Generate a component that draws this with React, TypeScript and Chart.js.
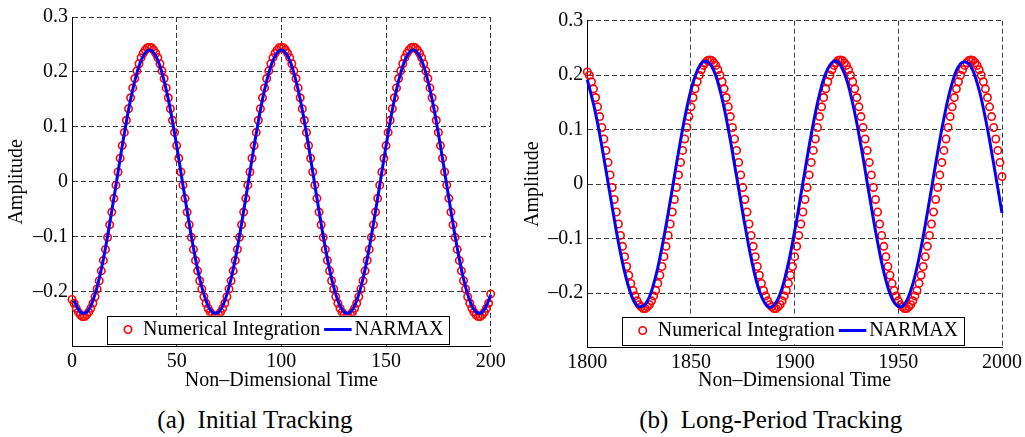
import React, { useEffect, useRef } from 'react';
import { Chart, registerables } from 'chart.js';

Chart.register(...registerables);

const FONT = "'Liberation Serif', 'Times New Roman', Times, serif";

// ---------- Panel (a): Initial Tracking ----------
// Numerical Integration, sampled at t = 0, 1, 2, ..., 200
const leftNumStart = 0;
const leftNumStep = 1;
const leftNumerical = [
  -0.214, -0.221, -0.230, -0.237, -0.242, -0.245, -0.245, -0.242, -0.237, -0.230, -0.221, -0.209, -0.195, -0.180, -0.162, -0.143, -0.123, -0.101, -0.078, -0.055, -0.030, -0.006, 0.018, 0.043, 0.066, 0.090, 0.112, 0.133, 0.153, 0.171, 0.188, 0.202, 0.215, 0.226, 0.234, 0.240, 0.244,
  0.245, 0.244, 0.240, 0.234, 0.226, 0.215, 0.202, 0.188, 0.171, 0.153, 0.133, 0.112, 0.090, 0.066, 0.043, 0.018, -0.006, -0.030, -0.055, -0.078, -0.101, -0.123, -0.143, -0.162, -0.180, -0.195, -0.209, -0.221, -0.230, -0.237, -0.242, -0.245, -0.245, -0.242, -0.237, -0.230, -0.221, -0.209, -0.195, -0.180, -0.162, -0.143, -0.123, -0.101, -0.078, -0.055, -0.030, -0.006, 0.018, 0.043, 0.066, 0.090, 0.112, 0.133, 0.153, 0.171, 0.188, 0.202, 0.215, 0.226, 0.234, 0.240, 0.244,
  0.245, 0.244, 0.240, 0.234, 0.226, 0.215, 0.202, 0.188, 0.171, 0.153, 0.133, 0.112, 0.090, 0.066, 0.043, 0.018, -0.006, -0.030, -0.055, -0.078, -0.101, -0.123, -0.143, -0.162, -0.180, -0.195, -0.209, -0.221, -0.230, -0.237, -0.242, -0.245, -0.245, -0.242, -0.237, -0.230, -0.221, -0.209, -0.195, -0.180, -0.162, -0.143, -0.123, -0.101, -0.078, -0.055, -0.030, -0.006, 0.018, 0.043, 0.066, 0.090, 0.112, 0.133, 0.153, 0.171, 0.188, 0.202, 0.215, 0.226, 0.234, 0.240, 0.244,
  0.245, 0.244, 0.240, 0.234, 0.226, 0.215, 0.202, 0.188, 0.171, 0.153, 0.133, 0.112, 0.090, 0.066, 0.043, 0.018, -0.006, -0.030, -0.055, -0.078, -0.101, -0.123, -0.143, -0.162, -0.180, -0.195, -0.209, -0.221, -0.230, -0.237, -0.242, -0.245, -0.245, -0.242, -0.237, -0.230, -0.221, -0.204,
];
// NARMAX, sampled at t = 1, 4, 7, ..., 199 and 200
const leftNarmaxT = [...Array.from({ length: 67 }, (_, i) => 1 + 3 * i), 200];
const leftNarmax = [
  -0.216, -0.237, -0.237, -0.216, -0.176, -0.120, -0.053, 0.018, 0.088, 0.150, 0.198, 0.229,
  0.240, 0.229, 0.198, 0.150, 0.088, 0.018, -0.053, -0.120, -0.176, -0.216, -0.237, -0.237, -0.216, -0.176, -0.120, -0.053, 0.018, 0.088, 0.150, 0.198, 0.229,
  0.240, 0.229, 0.198, 0.150, 0.088, 0.018, -0.053, -0.120, -0.176, -0.216, -0.237, -0.237, -0.216, -0.176, -0.120, -0.053, 0.018, 0.088, 0.150, 0.198, 0.229,
  0.240, 0.229, 0.198, 0.150, 0.088, 0.018, -0.053, -0.120, -0.176, -0.216, -0.237, -0.237, -0.216,
  -0.205,
];

// ---------- Panel (b): Long-Period Tracking ----------
// Numerical Integration, sampled at t = 1800, 1801, ..., 2000
const rightNumStart = 1800;
const rightNumStep = 1;
const rightNumerical = [
  0.206, 0.200, 0.188, 0.175, 0.159, 0.142, 0.124, 0.104, 0.083, 0.062, 0.040, 0.017, -0.006, -0.028, -0.051, -0.073, -0.094, -0.114, -0.133, -0.151, -0.167, -0.182, -0.195, -0.205, -0.214, -0.221, -0.225, -0.228, -0.228, -0.225, -0.221, -0.214, -0.205, -0.195, -0.182, -0.167, -0.151, -0.133, -0.114, -0.094, -0.073, -0.051, -0.028, -0.006, 0.017, 0.040, 0.062, 0.083, 0.104, 0.124, 0.142, 0.159, 0.175, 0.188, 0.200, 0.210, 0.218, 0.223, 0.227,
  0.228, 0.227, 0.223, 0.218, 0.210, 0.200, 0.188, 0.175, 0.159, 0.142, 0.124, 0.104, 0.083, 0.062, 0.040, 0.017, -0.006, -0.028, -0.051, -0.073, -0.094, -0.114, -0.133, -0.151, -0.167, -0.182, -0.195, -0.205, -0.214, -0.221, -0.225, -0.228, -0.228, -0.225, -0.221, -0.214, -0.205, -0.195, -0.182, -0.167, -0.151, -0.133, -0.114, -0.094, -0.073, -0.051, -0.028, -0.006, 0.017, 0.040, 0.062, 0.083, 0.104, 0.124, 0.142, 0.159, 0.175, 0.188, 0.200, 0.210, 0.218, 0.223, 0.227,
  0.228, 0.227, 0.223, 0.218, 0.210, 0.200, 0.188, 0.175, 0.159, 0.142, 0.124, 0.104, 0.083, 0.062, 0.040, 0.017, -0.006, -0.028, -0.051, -0.073, -0.094, -0.114, -0.133, -0.151, -0.167, -0.182, -0.195, -0.205, -0.214, -0.221, -0.225, -0.228, -0.228, -0.225, -0.221, -0.214, -0.205, -0.195, -0.182, -0.167, -0.151, -0.133, -0.114, -0.094, -0.073, -0.051, -0.028, -0.006, 0.017, 0.040, 0.062, 0.083, 0.104, 0.124, 0.142, 0.159, 0.175, 0.188, 0.200, 0.210, 0.218, 0.223, 0.227,
  0.228, 0.227, 0.223, 0.218, 0.210, 0.200, 0.188, 0.175, 0.159, 0.142, 0.124, 0.104, 0.083, 0.062, 0.040, 0.014,
];
// NARMAX, sampled at t = 1800, 1804, ..., 2000
const rightNarmaxT = Array.from({ length: 51 }, (_, i) => 1800 + 4 * i);
const rightNarmax = [
  0.192, 0.130, 0.048, -0.042, -0.126, -0.189, -0.223, -0.220, -0.183, -0.116,
  -0.031, 0.059, 0.140, 0.198, 0.225, 0.216, 0.172, 0.101, 0.014, -0.075,
  -0.153, -0.206, -0.226, -0.210, -0.161, -0.086, 0.003, 0.091, 0.165, 0.212,
  0.226, 0.203, 0.148, 0.070, -0.020, -0.106, -0.176, -0.217, -0.224, -0.195,
  -0.135, -0.053, 0.037, 0.121, 0.186, 0.221, 0.221, 0.186, 0.121, 0.037,
  -0.053,
];

const leftXTicks = [0, 200];
const rightXTicks = [1800, 2000];
const yRange = [-0.3, 0.3];
const xTitle = 'Non\u2013Dimensional Time';
const yTitle = 'Amplitude';
const seriesLabels = ['Numerical Integration', 'NARMAX'];
const captions = ['(a)  Initial Tracking', '(b)  Long-Period Tracking'];

const GRID_COLOR = '#3a3a3a';

function boxLegend(offsetX: number) {
  return {
    id: 'boxLegend',
    afterDatasetsDraw(chart: any) {
      const { ctx, chartArea } = chart;
      ctx.save();
      ctx.font = `20px ${FONT}`;
      const t1 = seriesLabels[0];
      const t2 = seriesLabels[1];
      const w1 = ctx.measureText(t1).width;
      const w2 = ctx.measureText(t2).width;
      const h = 27.6;
      const x0 = chartArea.left + offsetX;
      const yb = chartArea.bottom - 3.4;
      const y0 = yb - h;
      const yc = y0 + h / 2;
      const t1x = x0 + 36;
      const t1end = t1x + w1;
      const l1 = t1end + 4;
      const l2 = t1end + 31.5;
      const t2x = t1end + 34.3;
      const x1 = t2x + w2 + 6;
      ctx.fillStyle = '#ffffff';
      ctx.fillRect(x0, y0, x1 - x0, h);
      ctx.strokeStyle = '#000000';
      ctx.lineWidth = 1;
      ctx.strokeRect(Math.round(x0) + 0.5, Math.round(y0) + 0.5, Math.round(x1 - x0), Math.round(h));
      ctx.beginPath();
      ctx.arc(x0 + 21, yc, 3.7, 0, Math.PI * 2);
      ctx.strokeStyle = '#ff0000';
      ctx.lineWidth = 1.6;
      ctx.stroke();
      ctx.beginPath();
      ctx.moveTo(l1, yc);
      ctx.lineTo(l2, yc);
      ctx.strokeStyle = '#0000ff';
      ctx.lineWidth = 3;
      ctx.stroke();
      ctx.fillStyle = '#000000';
      ctx.textBaseline = 'middle';
      ctx.textAlign = 'left';
      ctx.fillText(t1, t1x, yc + 0.5);
      ctx.fillText(t2, t2x, yc + 0.5);
      ctx.restore();
    },
  };
}

type Spec = {
  numStart: number;
  numStep: number;
  numY: number[];
  narT: number[];
  narY: number[];
  xTicks: number[];
  yAxisWidth: number;
  xAxisHeight: number;
  padTop: number;
  padRight: number;
  yTitlePad: number;
  legendOffset: number;
};

function Panel({ spec, left, width, height }: { spec: Spec; left: number; width: number; height: number }) {
  const ref = useRef<HTMLCanvasElement>(null);
  useEffect(() => {
    const font = { family: FONT, size: 20 };
    const chart = new Chart(ref.current as HTMLCanvasElement, {
      type: 'line',
      data: {
        datasets: [
          {
            label: seriesLabels[1],
            data: spec.narT.map((x, i) => ({ x, y: spec.narY[i] })),
            borderColor: '#0000ff',
            backgroundColor: '#0000ff',
            borderWidth: 3,
            pointRadius: 0,
            tension: 0.4,
            fill: false,
            order: 0,
            clip: false,
          } as any,
          {
            label: seriesLabels[0],
            data: spec.numY.map((y, i) => ({ x: spec.numStart + spec.numStep * i, y })),
            showLine: false,
            borderColor: '#ff0000',
            backgroundColor: 'rgba(0,0,0,0)',
            pointRadius: 3.7,
            pointBorderWidth: 1.6,
            pointBorderColor: '#ff0000',
            pointBackgroundColor: 'rgba(0,0,0,0)',
            order: 1,
            clip: false,
          } as any,
        ],
      },
      options: {
        animation: false,
        responsive: false,
        maintainAspectRatio: false,
        events: [],
        layout: { padding: { top: spec.padTop, right: spec.padRight, left: 0, bottom: 0 } },
        plugins: { legend: { display: false }, tooltip: { enabled: false }, title: { display: false } },
        scales: {
          x: {
            type: 'linear',
            min: spec.xTicks[0],
            max: spec.xTicks[1],
            ticks: {
              stepSize: 50,
              font,
              color: '#000',
              padding: 3,
              maxRotation: 0,
              autoSkip: false,
              callback: (v: any) => String(v),
            },
            grid: { color: GRID_COLOR, lineWidth: 1, drawTicks: false },
            border: { display: true, color: '#000', width: 1, dash: [5, 3] },
            title: { display: true, text: xTitle, font, color: '#000', padding: { top: 0, bottom: 7 } },
            afterFit: (s: any) => {
              s.height = spec.xAxisHeight;
            },
          },
          y: {
            type: 'linear',
            min: yRange[0],
            max: yRange[1],
            ticks: {
              stepSize: 0.1,
              font,
              color: '#000',
              padding: 4,
              callback: (v: any) => {
                const n = Math.round(Number(v) * 10) / 10;
                if (n < -0.25) return '';
                if (n === 0) return '0';
                return (n < 0 ? '\u2013' : '') + Math.abs(n).toFixed(1);
              },
            },
            grid: { color: GRID_COLOR, lineWidth: 1, drawTicks: false },
            border: { display: true, color: '#000', width: 1, dash: [5, 3] },
            title: { display: true, text: yTitle, font, color: '#000', padding: { top: spec.yTitlePad, bottom: 0 } },
            afterFit: (s: any) => {
              s.width = spec.yAxisWidth;
            },
          },
        },
      } as any,
      plugins: [boxLegend(spec.legendOffset)],
    });
    return () => chart.destroy();
  }, []);
  return (
    <canvas
      ref={ref}
      width={width}
      height={height}
      style={{ position: 'absolute', left, top: 0, width, height }}
    />
  );
}

const leftSpec: Spec = {
  numStart: leftNumStart,
  numStep: leftNumStep,
  numY: leftNumerical,
  narT: leftNarmaxT,
  narY: leftNarmax,
  xTicks: leftXTicks,
  yAxisWidth: 72,
  xAxisHeight: 400 - 346.7,
  padTop: 17,
  padRight: 515 - 490.7,
  yTitlePad: 5,
  legendOffset: 35,
};

const rightSpec: Spec = {
  numStart: rightNumStart,
  numStep: rightNumStep,
  numY: rightNumerical,
  narT: rightNarmaxT,
  narY: rightNarmax,
  xTicks: rightXTicks,
  yAxisWidth: 587.3 - 515,
  xAxisHeight: 400 - 347.7,
  padTop: 20.7,
  padRight: 510 - (1002 - 515),
  yTitlePad: 6,
  legendOffset: 34.4,
};

export default function App() {
  const captionStyle = (center: number): React.CSSProperties => ({
    position: 'absolute',
    left: center - 250,
    width: 500,
    top: 405,
    textAlign: 'center',
    fontFamily: FONT,
    fontSize: 25,
    lineHeight: '30px',
    whiteSpace: 'pre',
    color: '#000',
  });
  return (
    <div
      style={{
        position: 'absolute',
        left: 0,
        top: 0,
        width: 1025,
        height: 437,
        background: '#fff',
        overflow: 'hidden',
      }}
    >
      <Panel spec={leftSpec} left={0} width={515} height={400} />
      <Panel spec={rightSpec} left={515} width={510} height={400} />
      <div style={captionStyle(254.9)}>{captions[0]}</div>
      <div style={captionStyle(770.8)}>{captions[1]}</div>
    </div>
  );
}
